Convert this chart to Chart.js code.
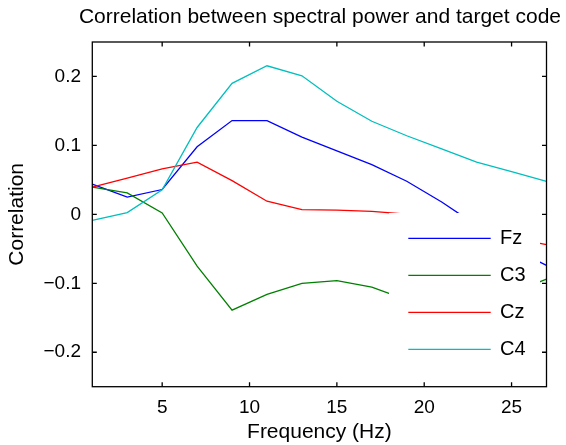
<!DOCTYPE html>
<html><head><meta charset="utf-8">
<script src="https://cdn.jsdelivr.net/npm/chart.js@4.4.1/dist/chart.umd.min.js"></script>
<style>html,body{margin:0;padding:0;background:#fff;}canvas{display:block;}</style>
</head><body>
<canvas id="c" width="566" height="445"></canvas>
<script>
// ---- data ----
const frequencies = [1, 3, 5, 7, 9, 11, 13, 15, 17, 19, 21, 23, 25, 27];
const seriesNames = ['Fz', 'C3', 'Cz', 'C4'];
const fzValues = [0.044, 0.025, 0.036, 0.098, 0.136, 0.136, 0.112, 0.092, 0.072, 0.048, 0.018, -0.016, -0.049, -0.074];
const c3Values = [0.0395, 0.031, 0.002, -0.075, -0.139, -0.116, -0.100, -0.096, -0.1055, -0.124, -0.131, -0.128, -0.114, -0.094];
const czValues = [0.0395, 0.0525, 0.066, 0.0757, 0.049, 0.019, 0.0068, 0.0062, 0.0043, 0.0003, -0.012, -0.024, -0.034, -0.044];
const c4Values = [-0.0087, 0.0025, 0.0357, 0.126, 0.190, 0.2155, 0.201, 0.164, 0.135, 0.114, 0.095, 0.0757, 0.062, 0.0477];
const xTickValues = [5, 10, 15, 20, 25];
const yTickValues = [-0.2, -0.1, 0, 0.1, 0.2];
const titleText = 'Correlation between spectral power and target code';
const xAxisLabel = 'Frequency (Hz)';
const yAxisLabel = 'Correlation';

const colors = ['#0000ff', '#008000', '#ff0000', '#00bfbf'];
const allValues = [fzValues, c3Values, czValues, c4Values];
const FONT = '"Liberation Sans", Arial, Helvetica, sans-serif';

const datasets = seriesNames.map((name, i) => ({
  label: name,
  data: frequencies.map((f, j) => ({x: f, y: allValues[i][j]})),
  borderColor: colors[i],
  backgroundColor: colors[i],
  borderWidth: 1.3,
  pointRadius: 0,
  fill: false,
  tension: 0,
  order: 4 - i
}));

const frameAndLegend = {
  id: 'frameAndLegend',
  afterDatasetsDraw(chart) {
    const {ctx, chartArea: a, scales} = chart;
    ctx.save();
    // frame
    ctx.strokeStyle = '#000';
    ctx.lineWidth = 1.3;
    ctx.strokeRect(a.left, a.top, a.right - a.left, a.bottom - a.top);
    // inside tick marks
    const tl = 4.5;
    ctx.beginPath();
    scales.x.ticks.forEach(t => {
      const px = scales.x.getPixelForValue(t.value);
      ctx.moveTo(px, a.bottom); ctx.lineTo(px, a.bottom - tl);
      ctx.moveTo(px, a.top); ctx.lineTo(px, a.top + tl);
    });
    scales.y.ticks.forEach(t => {
      const py = scales.y.getPixelForValue(t.value);
      ctx.moveTo(a.left, py); ctx.lineTo(a.left + tl, py);
      ctx.moveTo(a.right, py); ctx.lineTo(a.right - tl, py);
    });
    ctx.stroke();
    // legend (inside plot, white box)
    const left = a.right - 157.5, top = a.top + 171, w = 151, h = 161;
    ctx.fillStyle = '#fff';
    ctx.fillRect(left, top, w, h);
    ctx.font = '20px ' + FONT;
    ctx.textBaseline = 'middle';
    ctx.textAlign = 'left';
    chart.data.datasets.forEach((ds, i) => {
      const y = top + 25.3 + i * 37;
      ctx.strokeStyle = ds.borderColor;
      ctx.lineWidth = ds.borderWidth;
      ctx.beginPath();
      ctx.moveTo(left + 19.3, y); ctx.lineTo(left + 101.7, y);
      ctx.stroke();
      ctx.fillStyle = '#000';
      ctx.fillText(ds.label, left + 111, y + 0.5);
    });
    ctx.restore();
  }
};

new Chart(document.getElementById('c'), {
  type: 'line',
  data: {datasets},
  options: {
    responsive: false,
    animation: false,
    devicePixelRatio: 1,
    layout: {padding: {left: 0, right: 5, top: 0, bottom: 0}},
    plugins: {
      legend: {display: false},
      tooltip: {enabled: false},
      title: {
        display: true,
        text: titleText,
        align: 'end',
        color: '#000',
        font: {family: FONT, size: 21, weight: 'normal', lineHeight: 1.2},
        padding: {top: 5, bottom: 11.8}
      }
    },
    scales: {
      x: {
        type: 'linear',
        min: 1, max: 27,
        grid: {display: false, drawTicks: false},
        border: {display: false},
        afterBuildTicks: s => { s.ticks = xTickValues.map(v => ({value: v})); },
        afterFit: s => { s.height = 58.3; },
        ticks: {
          color: '#000',
          padding: 10,
          maxRotation: 0,
          font: {family: FONT, size: 19, lineHeight: 1.2},
          callback: v => String(v)
        },
        title: {
          display: true,
          text: xAxisLabel,
          color: '#000',
          font: {family: FONT, size: 21, lineHeight: 1.2},
          padding: {top: 0, bottom: 0}
        }
      },
      y: {
        type: 'linear',
        position: 'left',
        min: -0.25, max: 0.25,
        grid: {display: false, drawTicks: false},
        border: {display: false},
        afterBuildTicks: s => { s.ticks = yTickValues.map(v => ({value: v})); },
        afterFit: s => { s.width = 92.3; },
        ticks: {
          color: '#000',
          padding: 11.3,
          font: {family: FONT, size: 19, lineHeight: 1.2},
          callback: v => v === 0 ? '0' : (v < 0 ? '\u2212' : '') + String(Math.abs(v))
        },
        title: {
          display: true,
          text: yAxisLabel,
          color: '#000',
          font: {family: FONT, size: 21, lineHeight: 1.2},
          padding: {top: 5, bottom: 0}
        }
      },
      y2: {
        type: 'linear',
        position: 'right',
        display: true,
        grid: {display: false, drawTicks: false},
        border: {display: false},
        ticks: {display: false},
        afterFit: s => { s.width = 14.5; }
      }
    }
  },
  plugins: [frameAndLegend]
});
</script>
</body></html>
